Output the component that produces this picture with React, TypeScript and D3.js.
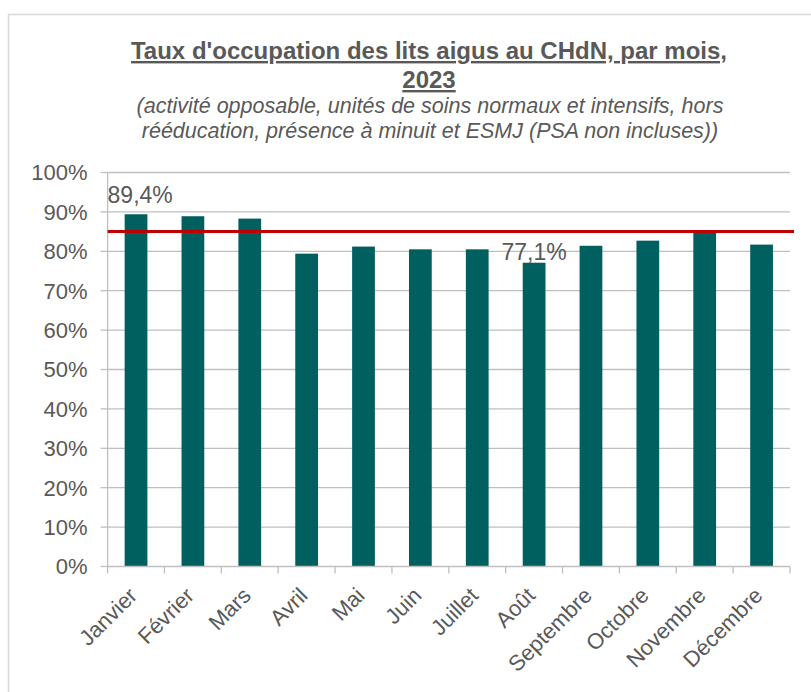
import React from "react";
import * as d3 from "d3";

const months = ["Janvier", "Février", "Mars", "Avril", "Mai", "Juin", "Juillet", "Août", "Septembre", "Octobre", "Novembre", "Décembre"];
const occupancy = [0.894, 0.889, 0.883, 0.794, 0.812, 0.805, 0.805, 0.771, 0.814, 0.827, 0.848, 0.817];
const target = 0.85;
const yTicks = [0, 0.1, 0.2, 0.3, 0.4, 0.5, 0.6, 0.7, 0.8, 0.9, 1.0];
const labelledMonths = ["Janvier", "Août"];
const titleLines = ["Taux d'occupation des lits aigus au CHdN, par mois,", "2023"];
const subtitleLines = [
  "(activité opposable, unités de soins normaux et intensifs, hors",
  "rééducation, présence à minuit et ESMJ (PSA non incluses))",
];

const W = 811;
const H = 692;
const FONT = "'Liberation Sans', Arial, sans-serif";
const TEXT = "#595959";
const BAR = "#005F5F";
const GRID = "#BFBFBF";
const RED = "#C00000";

const fmt = (v: number) => (v * 100).toFixed(1).replace(".", ",") + "%";

export default function App() {
  const left = 107.6;
  const right = 790;
  const top = 172.5;
  const bottom = 566.5;

  const x = d3.scaleBand<string>().domain(months).range([left, right]).paddingInner(0.6).paddingOuter(0.3);
  const y = d3.scaleLinear().domain([0, 1]).range([bottom, top]);
  const step = x.step();
  const labelGap: Record<string, number> = { "Janvier": 11, "Août": 3 };

  return (
    <div style={{ position: "fixed", left: 0, top: 0 }}>
      <svg width={W} height={H} style={{ display: "block", background: "#fff" }}>
        <rect x={8.5} y={14.5} width={W} height={H} fill="#fff" stroke="#D9D9D9" strokeWidth={1.5} />
        <g fontFamily={FONT} fill={TEXT} textAnchor="middle">
          {titleLines.map((t, i) => (
            <text key={t} x={429} y={59 + i * 29} fontSize={24} fontWeight="bold" textDecoration="underline">
              {t}
            </text>
          ))}
          {subtitleLines.map((t, i) => (
            <text key={t} x={430} y={113 + i * 25} fontSize={21.5} fontStyle="italic">
              {t}
            </text>
          ))}
        </g>
        {/* gridlines */}
        {yTicks.filter((t) => t > 0).map((t) => (
          <line key={t} x1={left} x2={right} y1={y(t)} y2={y(t)} stroke={GRID} strokeWidth={1.3} />
        ))}
        {/* y axis */}
        <line x1={left} x2={left} y1={top} y2={bottom} stroke={GRID} strokeWidth={1.3} />
        {yTicks.map((t) => (
          <g key={"yt" + t}>
            <line x1={left - 7} x2={left} y1={y(t)} y2={y(t)} stroke={GRID} strokeWidth={1.3} />
            <text x={left - 20} y={y(t)} dy="0.36em" textAnchor="end" fontFamily={FONT} fontSize={22} fill={TEXT}>
              {Math.round(t * 100) + "%"}
            </text>
          </g>
        ))}
        {/* bars */}
        {months.map((m, i) => (
          <rect key={m} x={x(m)} y={y(occupancy[i])} width={x.bandwidth()} height={bottom - y(occupancy[i])} fill={BAR} />
        ))}
        {/* x axis */}
        <line x1={left} x2={right} y1={bottom} y2={bottom} stroke={GRID} strokeWidth={1.3} />
        {d3.range(months.length + 1).map((i) => (
          <line key={"xt" + i} x1={left + i * step} x2={left + i * step} y1={bottom} y2={bottom + 7} stroke={GRID} strokeWidth={1.3} />
        ))}
        {months.map((m) => {
          const cx = (x(m) as number) + x.bandwidth() / 2;
          return (
            <text
              key={"xl" + m}
              transform={`translate(${cx - 3},${bottom + 25}) rotate(-45)`}
              textAnchor="end"
              fontFamily={FONT}
              fontSize={22}
              fill={TEXT}
              dy="0.35em"
            >
              {m}
            </text>
          );
        })}
        {/* target line */}
        <line x1={left} x2={right + 4} y1={y(target)} y2={y(target)} stroke={RED} strokeWidth={3} />
        {/* data labels */}
        {labelledMonths.map((m) => {
          const i = months.indexOf(m);
          const cx = (x(m) as number) + x.bandwidth() / 2;
          const fs = 23;
          const w = 2.835 * fs;
          const lx = Math.max(cx, left + w / 2);
          return (
            <text key={"dl" + m} x={lx} y={y(occupancy[i]) - labelGap[m]} textAnchor="middle" fontFamily={FONT} fontSize={fs} fill={TEXT}>
              {fmt(occupancy[i])}
            </text>
          );
        })}
      </svg>
    </div>
  );
}
